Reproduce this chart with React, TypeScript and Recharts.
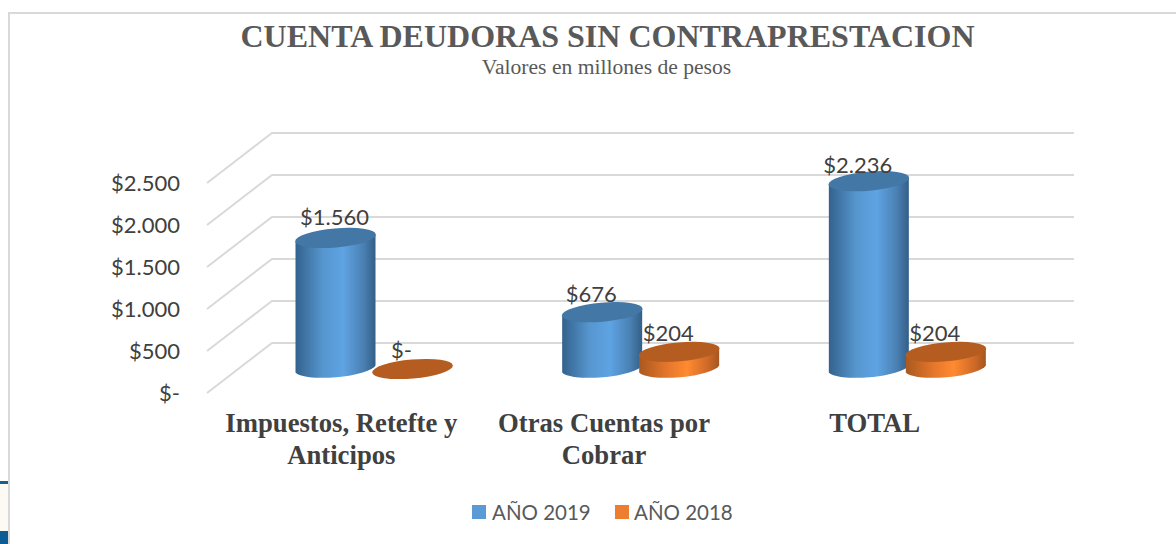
import React from 'react';
import { BarChart, Bar, XAxis, YAxis, CartesianGrid, Legend, LabelList } from 'recharts';

// Values in millions of pesos
const categories = ['Impuestos, Retefte y|Anticipos', 'Otras Cuentas por|Cobrar', 'TOTAL'];
const serie2019 = [1560, 676, 2236];
const serie2018 = [0, 204, 204];
const yTicks = [0, 500, 1000, 1500, 2000, 2500];

const data = categories.map((name, i) => ({ name, y2019: serie2019[i], y2018: serie2018[i] }));

const TEXT = '#404040';
const SANS = 'Lato, sans-serif';
const SERIF = '"Liberation Serif", serif';
const DEPTH = 25; // half of the fake 3D floor depth

// Excel's 3D label placement is uneven, nudges per category
const NUDGE_2019 = [{ dx: 0, dy: 12 }, { dx: -10, dy: 9 }, { dx: -10, dy: 7 }];
const NUDGE_2018 = [{ dx: -10, dy: 10 }, { dx: -10, dy: 10 }, { dx: -10, dy: 10 }];
const NUDGE_CATEGORY = [0, -4, 0];

const money = (v: number) => (v === 0 ? '$-' : '$' + v.toLocaleString('de-DE'));

// Gridline that runs up the side wall then along the back wall
const WallLine = (props: any) => {
  const { x1, x2, y1 } = props;
  return (
    <polyline
      points={`${x1 - 33},${y1 + DEPTH} ${x1 + 32},${y1 - DEPTH} ${x2 + 34},${y1 - DEPTH}`}
      fill="none"
      stroke="#d9d9d9"
      strokeWidth={2}
    />
  );
};

const Cylinder = (props: any) => {
  const { x, y, width, height, gradient, top } = props;
  const cx = x + width / 2 + 1;
  const yt = y + 1;
  const rx = 40.5;
  const ry = 9.5;
  const dy = 3.5;
  const yb = yt + height;
  const side = `M${cx - 40},${yt + dy} L${cx - 40},${yb + dy} A${rx},${ry} -5 0 0 ${cx + 40},${yb - dy} L${cx + 40},${yt - dy} Z`;
  return (
    <g>
      {height > 0 && <path d={side} fill={`url(#${gradient})`} />}
      <ellipse cx={cx} cy={yt} rx={rx} ry={ry} fill={top} transform={`rotate(-5 ${cx} ${yt})`} />
    </g>
  );
};

const YTick = (props: any) => {
  const { y, payload } = props;
  return (
    <text x={180} y={y + DEPTH + 8} textAnchor="end" fontFamily={SANS} fontSize={22} fill={TEXT}>
      {money(payload.value)}
    </text>
  );
};

const XTick = (props: any) => {
  const { x, payload, index } = props;
  const lines = String(payload.value).split('|');
  return (
    <text textAnchor="middle" fontFamily={SERIF} fontSize={26.7} fontWeight="bold" fill={TEXT}>
      {lines.map((l, i) => (
        <tspan key={i} x={x - 32 + NUDGE_CATEGORY[index]} y={432 + i * 32}>
          {l}
        </tspan>
      ))}
    </text>
  );
};

const BarLabel = (props: any) => {
  const { x, y, width, value, index, nudge } = props;
  return (
    <text x={x + width / 2 + nudge[index].dx} y={y - nudge[index].dy} textAnchor="middle" fontFamily={SANS} fontSize={22} fill={TEXT}>
      {money(value)}
    </text>
  );
};

const LegendContent = () => (
  <div style={{ position: 'relative', height: 26, fontFamily: SANS, fontSize: 20.5, color: '#595959', lineHeight: '26px' }}>
    <i style={{ position: 'absolute', left: 472, top: 6, width: 14, height: 14, background: '#5b9bd5' }} />
    <span style={{ position: 'absolute', left: 492 }}>AÑO 2019</span>
    <i style={{ position: 'absolute', left: 615, top: 6, width: 14, height: 14, background: '#ed7d31' }} />
    <span style={{ position: 'absolute', left: 634 }}>AÑO 2018</span>
  </div>
);

export default function App() {
  return (
    <div style={{ position: 'absolute', left: 0, top: 0, width: 1176, height: 544, overflow: 'hidden', background: '#fff' }}>
      {/* chart frame, only top and left are visible in the crop */}
      <div style={{ position: 'absolute', left: 8, top: 12, width: 1168, height: 2, background: '#d9d9d9' }} />
      <div style={{ position: 'absolute', left: 8, top: 12, width: 2, height: 532, background: '#d9d9d9' }} />
      {/* bit of the page behind the chart, bottom left */}
      <div style={{ position: 'absolute', left: 0, top: 481, width: 8, height: 63, background: '#fdfaf3' }} />
      <div style={{ position: 'absolute', left: 0, top: 481, width: 8, height: 3, background: '#1a5f8c' }} />
      <div style={{ position: 'absolute', left: 0, top: 531, width: 8, height: 13, background: '#0d5c94' }} />

      <div style={{ position: 'absolute', left: 0, top: 18, width: 1215, textAlign: 'center', fontFamily: SERIF, fontWeight: 'bold', fontSize: 32, color: '#595959', whiteSpace: 'nowrap' }}>
        CUENTA DEUDORAS SIN CONTRAPRESTACION
      </div>
      <div style={{ position: 'absolute', left: 0, top: 55, width: 1213, textAlign: 'center', fontFamily: SERIF, fontSize: 21.6, color: '#595959' }}>
        Valores en millones de pesos
      </div>

      <div style={{ position: 'absolute', left: 0, top: 0 }}>
        <BarChart
          width={1176}
          height={544}
          data={data}
          barSize={77}
          barGap={0}
          margin={{ top: 158, right: 136, bottom: 90, left: 140 }}
        >
          <defs>
            <linearGradient id="blueSide" x1="0" x2="1" y1="0" y2="0">
              <stop offset="0" stopColor="#33628c" />
              <stop offset="0.35" stopColor="#5797d0" />
              <stop offset="0.6" stopColor="#5ea3e3" />
              <stop offset="0.85" stopColor="#4a80b2" />
              <stop offset="1" stopColor="#335f87" />
            </linearGradient>
            <linearGradient id="orangeSide" x1="0" x2="1" y1="0" y2="0">
              <stop offset="0" stopColor="#a9591f" />
              <stop offset="0.35" stopColor="#e5762c" />
              <stop offset="0.6" stopColor="#ff8a30" />
              <stop offset="0.85" stopColor="#d06a28" />
              <stop offset="1" stopColor="#a5561f" />
            </linearGradient>
          </defs>
          <CartesianGrid vertical={false} horizontal={(p: any) => <WallLine key={p.key} {...p} />} />
          <XAxis dataKey="name" axisLine={false} tickLine={false} height={60} interval={0} tick={<XTick />} />
          <YAxis width={100} domain={[0, 2500]} ticks={yTicks} axisLine={false} tickLine={false} tick={<YTick />} />
          <Bar dataKey="y2019" name="AÑO 2019" fill="#5b9bd5" isAnimationActive={false} shape={<Cylinder gradient="blueSide" top="#4377a5" />}>
            <LabelList dataKey="y2019" content={(p: any) => <BarLabel {...p} nudge={NUDGE_2019} />} />
          </Bar>
          <Bar dataKey="y2018" name="AÑO 2018" fill="#ed7d31" isAnimationActive={false} shape={<Cylinder gradient="orangeSide" top="#b55d20" />}>
            <LabelList dataKey="y2018" content={(p: any) => <BarLabel {...p} nudge={NUDGE_2018} />} />
          </Bar>
          <Legend content={<LegendContent />} wrapperStyle={{ position: 'absolute', left: 0, width: 1176, top: 499 }} />
        </BarChart>
      </div>
    </div>
  );
}
